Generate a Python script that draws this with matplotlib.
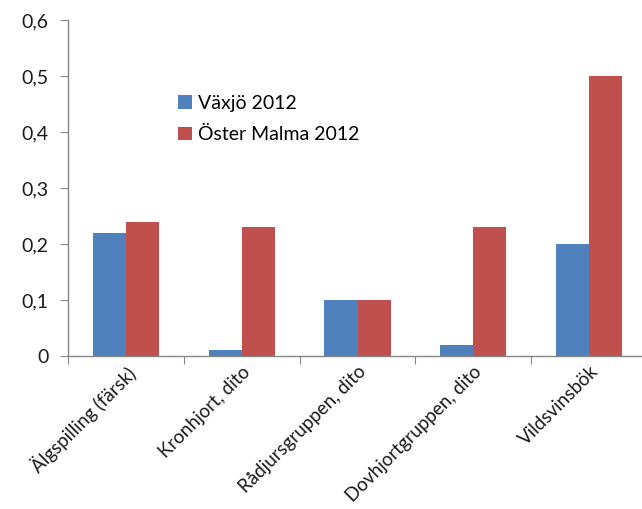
import numpy as np
import matplotlib.pyplot as plt

# data
categories = ["Älgspilling (färsk)", "Kronhjort, dito", "Rådjursgruppen, dito",
              "Dovhjortgruppen, dito", "Vildsvinsbök"]
vaxjo = [0.22, 0.01, 0.10, 0.02, 0.20]
oster_malma = [0.24, 0.23, 0.10, 0.23, 0.50]
series_names = ["Växjö 2012", "Öster Malma 2012"]
yticks = [0, 0.1, 0.2, 0.3, 0.4, 0.5, 0.6]
ytick_labels = ["0", "0,1", "0,2", "0,3", "0,4", "0,5", "0,6"]

plt.rcParams['font.family'] = ['Lato', 'DejaVu Sans']

fig = plt.figure(figsize=(6.42, 5.09), dpi=100)
# axis spans x 68..647 px, y 20..356 px
ax = fig.add_axes([68/642, 1-356/509, (647-68)/642, (356-20)/509])

x = np.arange(len(categories))
w = 1/3.5
b1 = ax.bar(x - w/2, vaxjo, w, color='#4F81BD', label=series_names[0])
b2 = ax.bar(x + w/2, oster_malma, w, color='#C0504D', label=series_names[1])

ax.set_xlim(-0.5, len(categories) - 0.5)
ax.set_ylim(0, 0.6)
ax.set_yticks(yticks)
ax.set_yticklabels(ytick_labels, fontsize=14, color='#1a1a1a')

# category boundaries as ticks, labels at centers
ax.set_xticks(np.arange(len(categories)) - 0.5)
ax.set_xticklabels([])
ax.set_xticks(x, minor=True)
ax.set_xticklabels(categories, minor=True, rotation=45, ha='right',
                   rotation_mode='anchor', fontsize=13.5, color='#1a1a1a')
ax.tick_params(axis='x', which='minor', length=0, pad=5)
ax.tick_params(axis='x', which='major', length=6, color='#868686', direction='out')
ax.tick_params(axis='y', length=6, color='#868686', direction='out', pad=8)

for s in ['top', 'right']:
    ax.spines[s].set_visible(False)
for s in ['left', 'bottom']:
    ax.spines[s].set_color('#868686')
    ax.spines[s].set_linewidth(1)

ax.legend(handles=[b1, b2], loc='upper left', bbox_to_anchor=(0.16, 0.83),
          frameon=False, fontsize=14, handlelength=0.7, handleheight=0.7,
          handletextpad=0.3, labelspacing=0.75)

fig.savefig("out.png", dpi=100)
